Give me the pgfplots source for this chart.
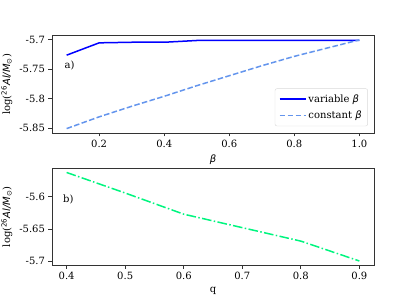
\documentclass[border=0pt]{standalone}
\usepackage{fontspec}
\setmainfont{DejaVu Serif}
\newfontfamily\djs{DejaVu Sans}
\usepackage{pgfplots}
\pgfplotsset{compat=1.18}
\definecolor{cfblue}{RGB}{100,149,237}
\definecolor{sgreen}{RGB}{0,245,127}
\newcommand{\ylbl}{log({\djs\itshape\textsuperscript{\upshape 26}Al/M\textsubscript{\upshape ⊙}})}
\newcommand{\bet}{{\djs\itshape β}}
\pgfplotsset{mystyle/.style={
  scale only axis, width=322pt, height=97.5pt,
  axis line style={black!80, line width=0.8pt},
  every tick/.style={black!80, line width=0.8pt},
  tick align=outside, major tick length=3.5pt,
  xtick pos=bottom, ytick pos=left,
  tick label style={font=\fontsize{10}{12}\selectfont},
  label style={font=\fontsize{10}{12}\selectfont},
  /pgf/number format/assume math mode=true,
  minor tick num=0,
}}
\begin{document}
\begin{tikzpicture}
\useasboundingbox (0pt,0pt) rectangle (416pt,299pt);
\begin{axis}[mystyle, at={(52pt,166pt)}, anchor=south west,
  xmin=0.055, xmax=1.045, ymin=-5.8585, ymax=-5.6925,
  xtick={0.2,0.4,0.6,0.8,1.0}, xticklabels={0.2,0.4,0.6,0.8,1.0},
  ytick={-5.85,-5.8,-5.75,-5.7}, yticklabels={-5.85,-5.8,-5.75,-5.7},
  xlabel={\bet}, ylabel={\ylbl},
  legend style={at={(axis description cs:0.981,0.07)}, anchor=south east,
    draw=black!15, rounded corners=2pt, font=\fontsize{10}{12}\selectfont,
    row sep=3pt, inner sep=4pt},
  legend cell align=left,
  legend image code/.code={\draw[#1] (0pt,0pt) -- (26pt,0pt);},
]
\addplot[blue, line width=1.5pt] coordinates {
(0.1,-5.726) (0.2,-5.705) (0.3,-5.704) (0.4,-5.704) (0.5,-5.701) (0.6,-5.701) (0.7,-5.701) (0.8,-5.701) (0.9,-5.701) (1.0,-5.701)};
\addlegendentry{variable \bet}
\addplot[cfblue, line width=1.5pt, dash pattern=on 5.55pt off 2.4pt] coordinates {
(0.1,-5.851) (0.2,-5.831) (0.3,-5.813) (0.4,-5.796) (0.5,-5.778) (0.6,-5.761) (0.7,-5.744) (0.8,-5.728) (0.9,-5.714) (1.0,-5.700)};
\addlegendentry{constant \bet}
\node[anchor=west, font=\fontsize{10}{12}\selectfont] at (axis cs:0.083,-5.7433) {a)};
\end{axis}
\begin{axis}[mystyle, at={(52pt,33.5pt)}, anchor=south west,
  xmin=0.375, xmax=0.925, ymin=-5.707, ymax=-5.555,
  xtick={0.4,0.5,0.6,0.7,0.8,0.9}, xticklabels={0.4,0.5,0.6,0.7,0.8,0.9},
  ytick={-5.7,-5.65,-5.6}, yticklabels={-5.7,-5.65,-5.6},
  xlabel={q}, ylabel={\ylbl},
]
\addplot[sgreen, line width=1.5pt, dash pattern=on 9.6pt off 2.4pt on 1.5pt off 2.4pt] coordinates {
(0.4,-5.562) (0.5,-5.594) (0.6,-5.627) (0.7,-5.648) (0.8,-5.669) (0.9,-5.700)};
\node[anchor=west, font=\fontsize{10}{12}\selectfont] at (axis cs:0.388,-5.604) {b)};
\end{axis}
\end{tikzpicture}
\end{document}
